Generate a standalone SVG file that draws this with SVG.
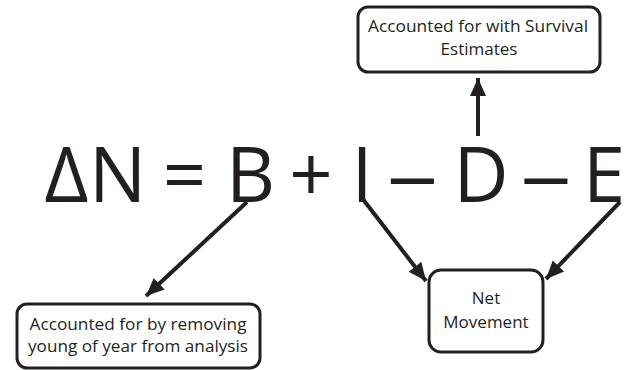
<svg xmlns="http://www.w3.org/2000/svg" width="625" height="370" viewBox="0 0 625 370">
<defs>
<style>
.box{fill:#fff;stroke:#231f20;stroke-width:3}
.lbl{font-family:"Open Sans","Liberation Sans",sans-serif;font-size:17px;fill:#231f20;text-anchor:middle}
.sm{font-size:16px}
.eq{font-family:"Open Sans","Liberation Sans",sans-serif;font-size:76px;fill:#231f20;text-anchor:middle}
.con{fill:none;stroke:#231f20;stroke-width:4;stroke-linejoin:round}
</style>
<marker id="ah" markerUnits="userSpaceOnUse" markerWidth="20" markerHeight="20" viewBox="0 0 20 20" refX="18" refY="10" orient="auto">
<path d="M0,2 L18,10 L0,18 Z" fill="#231f20"/>
</marker>
</defs>
<rect width="625" height="370" fill="#fff"/>
<g id="equation">
<text class="eq" x="66.5" y="202">Δ</text>
<text class="eq" x="117.5" y="202">N</text>
<text class="eq" x="184.5" y="202">=</text>
<text class="eq" x="250.5" y="202">B</text>
<text class="eq" x="311" y="202">+</text>
<text class="eq" x="362" y="202">I</text>
<text class="eq" transform="translate(412.5,202) scale(1.35,1)" x="0" y="0">–</text>
<text class="eq" x="481" y="202">D</text>
<text class="eq" transform="translate(546,202) scale(1.35,1)" x="0" y="0">–</text>
<text class="eq" x="604" y="202">E</text>
</g>
<g id="connectors">
<line class="con" x1="478" y1="136" x2="478" y2="78" marker-end="url(#ah)"/>
<line class="con" x1="247" y1="202" x2="146" y2="296" marker-end="url(#ah)"/>
<line class="con" x1="362" y1="198" x2="426" y2="281" marker-end="url(#ah)"/>
<line class="con" x1="620" y1="202" x2="546" y2="279" marker-end="url(#ah)"/>
</g>
<g id="survival">
<rect class="box" x="358" y="7" width="242" height="65" rx="10"/>
<text class="lbl" x="478" y="32" textLength="220" lengthAdjust="spacingAndGlyphs">Accounted for with Survival</text>
<text class="lbl" x="479" y="55">Estimates</text>
</g>
<g id="young">
<rect class="box" x="17" y="304" width="243" height="64" rx="10"/>
<text class="lbl sm" x="138" y="330" textLength="217" lengthAdjust="spacingAndGlyphs">Accounted for by removing</text>
<text class="lbl sm" x="138" y="352" textLength="220" lengthAdjust="spacingAndGlyphs">young of year from analysis</text>
</g>
<g id="net">
<rect class="box" x="429" y="270" width="114" height="82" rx="12"/>
<text class="lbl" x="486" y="304">Net</text>
<text class="lbl" x="486" y="328">Movement</text>
</g>
</svg>
